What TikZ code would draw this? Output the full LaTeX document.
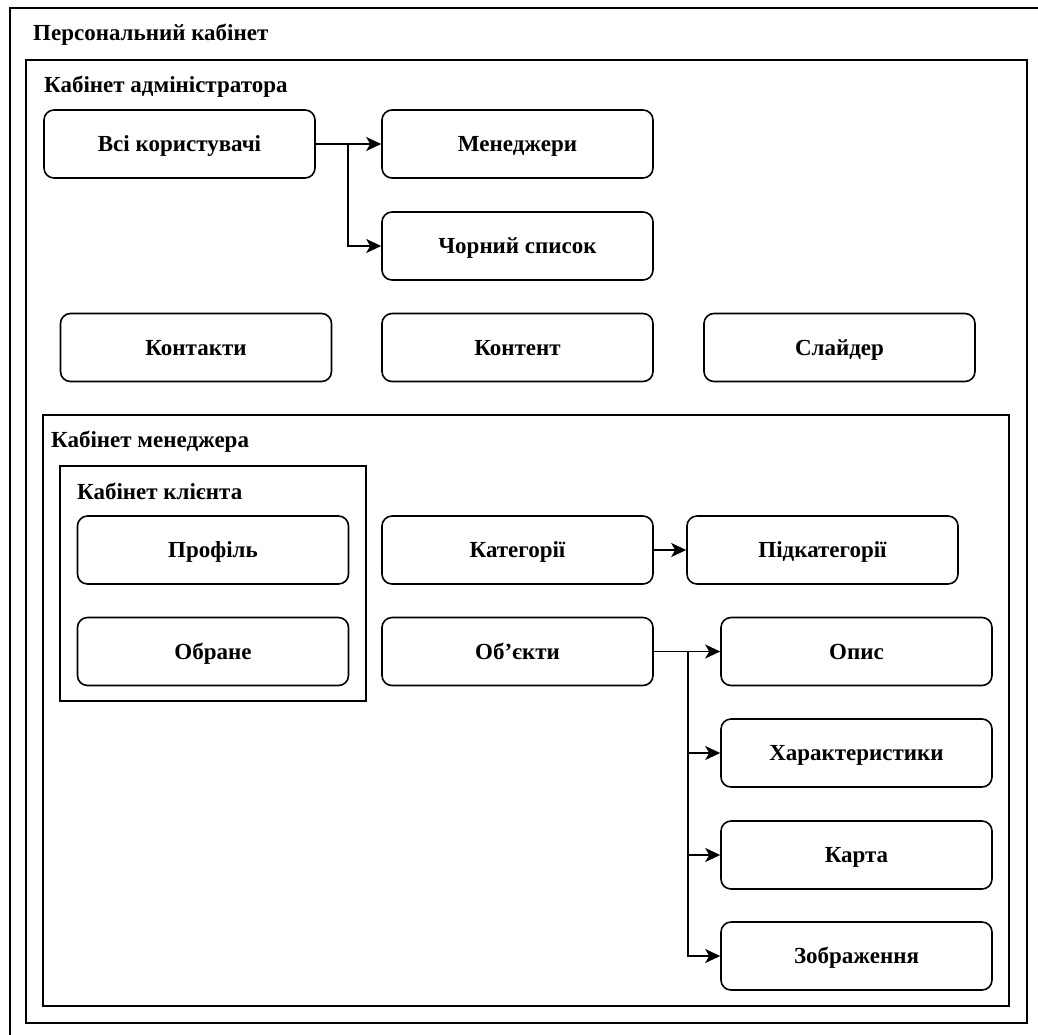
\documentclass[tikz,border=0pt]{standalone}
\usepackage{fontspec}
\setmainfont{Liberation Serif}
\usetikzlibrary{arrows.meta}

\begin{document}
\begin{tikzpicture}[x=1pt,y=-1pt,>={Stealth[length=15pt,width=14pt,inset=4pt]},
  font=\fontsize{23}{27}\selectfont\bfseries,
  box/.style={draw,line width=1.6pt,rounded corners=10pt,minimum width=271pt,
    minimum height=68pt,inner sep=0pt,text height=18pt,text depth=3pt},
  frame/.style={draw,line width=1.8pt},
  title/.style={anchor=west,inner sep=0pt,text height=18pt,text depth=3pt},
  link/.style={->,line width=1.6pt}]
  \useasboundingbox (0,0) rectangle (1038,1034);

  % frames
  \draw[frame] (10,8) rectangle (1060,1060);
  \node[title] (tPers) at (33,33) {Персональний кабінет};
  \draw[frame] (26,60) rectangle (1027,1023);
  \node[title] (tAdmin) at (44,85) {Кабінет адміністратора};
  \draw[frame] (43,415) rectangle (1009,1006);
  \node[title] (tMgr) at (51,440) {Кабінет менеджера};
  \draw[frame] (60,466) rectangle (366,701);
  \node[title] (tClient) at (77,492) {Кабінет клієнта};

  % admin
  \node[box] (users) at (179.5,144) {Всі користувачі};
  \node[box] (managers) at (517.5,144) {Менеджери};
  \node[box] (black) at (517.5,246) {Чорний список};
  \node[box] (contacts) at (196,347.5) {Контакти};
  \node[box] (content) at (517.5,347.5) {Контент};
  \node[box] (slider) at (839.5,347.5) {Слайдер};

  % client
  \node[box] (profile) at (213,550) {Профіль};
  \node[box] (fav) at (213,651.5) {Обране};

  % manager
  \node[box] (cat) at (517.5,550) {Категорії};
  \node[box] (subcat) at (822.5,550) {Підкатегорії};
  \node[box] (objects) at (517.5,651.5) {Об’єкти};
  \node[box] (descr) at (856.5,651.5) {Опис};
  \node[box] (props) at (856.5,753) {Характеристики};
  \node[box] (map) at (856.5,855) {Карта};
  \node[box] (images) at (856.5,956) {Зображення};

  \coordinate (uJ) at (348,144);
  \coordinate (oJ) at (688,651.5);
  \draw[link] (users) -- (managers);
  \draw[link] (uJ) |- (black);
  \draw[link] (cat) -- (subcat);
  \draw[link] (objects) -- (descr);
  \foreach \n in {props,map,images}
    \draw[link] (oJ) |- (\n);
\end{tikzpicture}
\end{document}
